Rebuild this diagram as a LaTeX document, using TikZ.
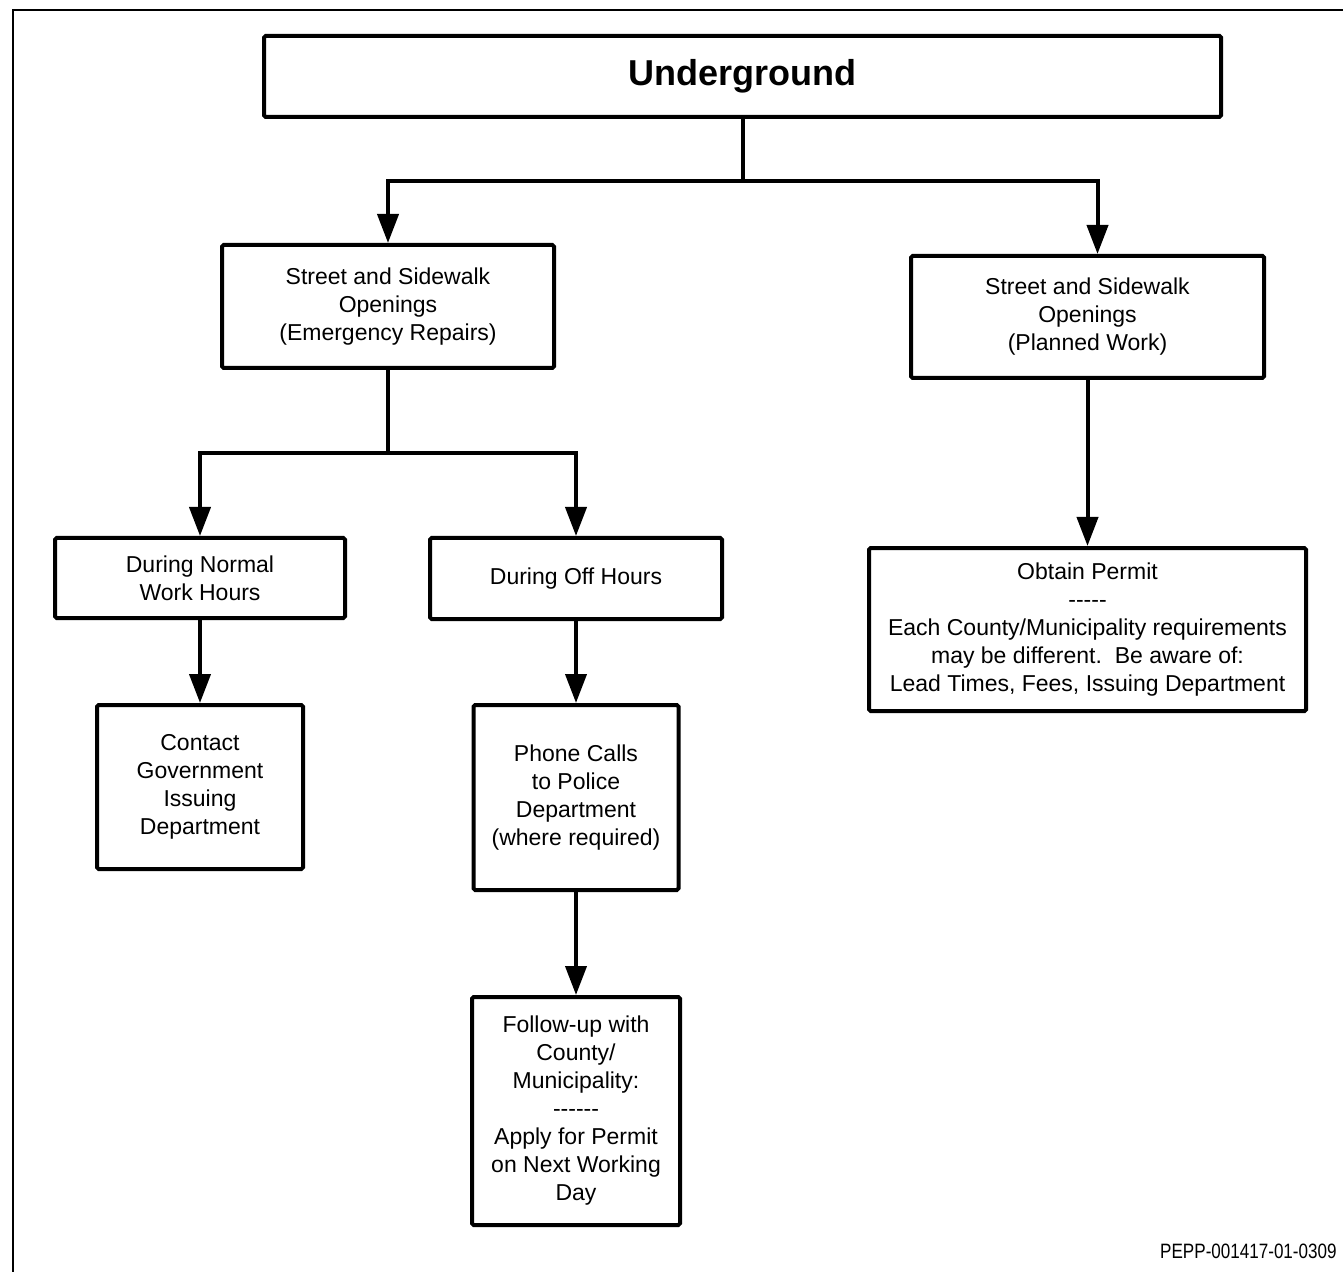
\documentclass[tikz,border=0pt]{standalone}
\usepackage{fontspec}
\setmainfont{Liberation Sans}
\newfontfamily\narrowfont[FakeStretch=0.82]{Liberation Sans}
\usetikzlibrary{arrows.meta}

\begin{document}
\begin{tikzpicture}[x=0.5pt,y=-0.5pt,
  box/.style={draw=black, line width=2pt, rounded corners=0.8pt, fill=white,
    align=center, inner sep=0pt, font=\fontsize{11.5}{14}\selectfont},
  link/.style={draw=black, line width=2pt},
  flow/.style={link, -{Triangle[width=10.5pt,length=14.5pt]}},
]
% page extent and clipping of the open frame
\useasboundingbox (0,0) rectangle (1343,1272);
\clip (0,0) rectangle (1343,1272);
\fill[white] (0,0) rectangle (1343,1272);
\draw[line width=1pt] (12.5,1300) -- (12.5,10) -- (1400,10);

% boxes (hyphen runs are written as -{} so they stay plain hyphens)
\node[box, minimum width=478.5pt, minimum height=40.5pt,
  font=\fontsize{18}{21}\selectfont\bfseries] (title) at (742.5,76.5) {Underground};

\node[box, minimum width=166pt, minimum height=61.5pt] (emerg) at (388,306.5)
  {Street and Sidewalk\\Openings\\(Emergency Repairs)};
\node[box, minimum width=176.5pt, minimum height=61pt] (planned) at (1087.5,317)
  {Street and Sidewalk\\Openings\\(Planned Work)};

\node[box, minimum width=145pt, minimum height=40pt] (normal) at (200,578)
  {During Normal\\Work Hours};
\node[box, minimum width=146pt, minimum height=40.5pt] (off) at (576,578.5)
  {During Off Hours};

\node[box, minimum width=103pt, minimum height=82pt] (contact) at (200,787)
  {Contact\\Government\\Issuing\\Department};
\node[box, minimum width=102.5pt, minimum height=92.5pt] (phone) at (576,797.5)
  {Phone Calls\\to Police\\Department\\(where required)};
\node[box, minimum width=104pt, minimum height=114pt] (follow) at (576,1111)
  {Follow-up with\\County/\\Municipality:\\-{}-{}-{}-{}-{}-\\Apply for Permit\\on Next Working\\Day};

\node[box, minimum width=218.5pt, minimum height=81.5pt] (permit) at (1087.5,629.5)
  {Obtain Permit\\-{}-{}-{}-{}-\\Each County/Municipality requirements\\may be different.~~Be aware of:\\Lead Times, Fees, Issuing Department};

% drawing reference
\node[anchor=base east, inner sep=0pt, font=\narrowfont\fontsize{10.4}{12}\selectfont]
  (ref) at (1337,1258) {PEPP-001417-01-0309};

% junction points
\coordinate (j1) at (742.5,181);
\coordinate (j2) at (388,453);

% connectors
\draw[link] (title.south) -- (j1);
\draw[flow] (j1) -| (emerg.north);
\draw[flow] (j1) -| ([xshift=5pt]planned.north);

\draw[link] (emerg.south) -- (j2);
\draw[flow] (j2) -| (normal.north);
\draw[flow] (j2) -| (off.north);

\draw[flow] (normal.south) -- (contact.north);
\draw[flow] (off.south) -- (phone.north);
\draw[flow] (phone.south) -- (follow.north);
\draw[flow] (planned.south) -- (permit.north);
\end{tikzpicture}
\end{document}
